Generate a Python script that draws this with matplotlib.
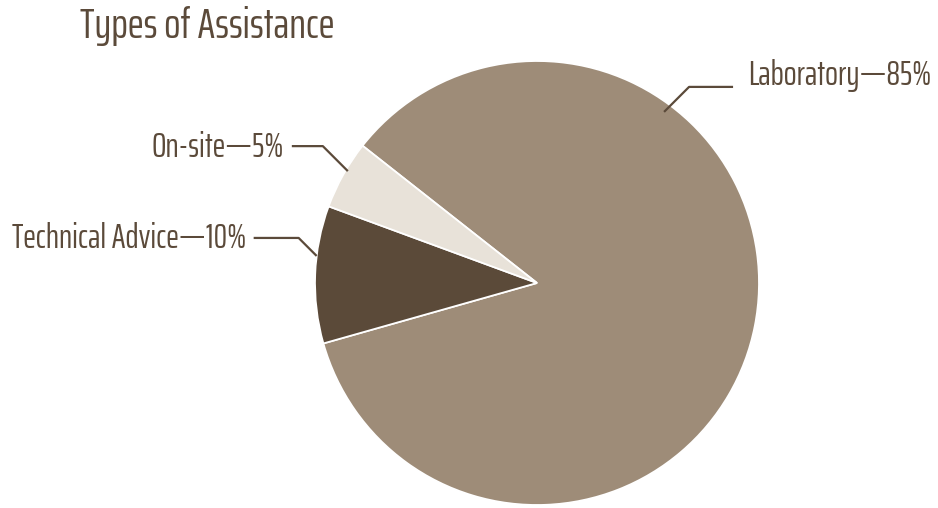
import matplotlib
matplotlib.use("Agg")
import matplotlib.pyplot as plt
import numpy as np

categories = ["Laboratory", "Technical Advice", "On-site"]
shares = [85, 10, 5]
colors = ["#9E8C78", "#5B4A39", "#E8E2D9"]
title = "Types of Assistance"

TEXT = "#5B4A3A"
FONT = ["Saira ExtraCondensed", "DejaVu Sans"]
W, H = 938, 508

fig = plt.figure(figsize=(W / 100, H / 100), dpi=100)
ax = fig.add_axes([0, 0, 1, 1])

cx, cy, R = 537, H - 283, 222
ax.pie(shares, colors=colors, startangle=141.8, counterclock=False,
       center=(cx, cy), radius=R, frame=True,
       wedgeprops=dict(edgecolor="white", linewidth=1.3))
ax.set_xlim(0, W)
ax.set_ylim(0, H)
ax.set_aspect("equal")
ax.axis("off")

# connector layout: (angle on rim, rim fraction, diagonal run, horizontal run, text gap, text y offset)
connectors = {
    "Laboratory": (53.4, 0.96, 25, 44, 15, 11),
    "Technical Advice": (173.0, 1.0, 18, 45, 7, -1),
    "On-site": (149.4, 0.99, 25, 31, 8, -1),
}

for name, share in zip(categories, shares):
    ang, frac, diag, run, gap, dy = connectors[name]
    a = np.deg2rad(ang)
    x0, y0 = cx + R * frac * np.cos(a), cy + R * frac * np.sin(a)
    side = 1 if np.cos(a) > 0 else -1
    x1, y1 = x0 + side * diag, y0 + diag
    x2 = x1 + side * run
    ax.plot([x0, x1, x2], [y0, y1, y1], color=TEXT, lw=1.6, solid_capstyle="butt")
    ax.text(x2 + side * gap, y1 + dy, f"{name}\u2014{share}%", ha="left" if side > 0 else "right",
            va="center", fontsize=24.5, color=TEXT, family=FONT)

fig.text(80 / W, 1 - 26 / H, title, ha="left", va="center", fontsize=31, color=TEXT, family=FONT)
fig.savefig("out.png")
